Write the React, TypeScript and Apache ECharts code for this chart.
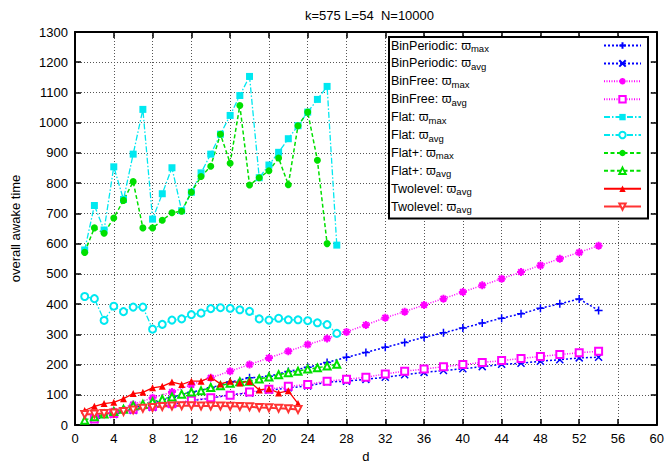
import React, { useEffect, useRef } from "react";
import * as echarts from "echarts";

// ---- data ----
const dEven = [2, 4, 6, 8, 10, 12, 14, 16, 18, 20, 22, 24, 26, 28, 30, 32, 34, 36, 38, 40, 42, 44, 46, 48, 50, 52, 54];
const d27 = [1, 2, 3, 4, 5, 6, 7, 8, 9, 10, 11, 12, 13, 14, 15, 16, 17, 18, 19, 20, 21, 22, 23, 24, 25, 26, 27];
const d26 = [1, 2, 3, 4, 5, 6, 7, 8, 9, 10, 11, 12, 13, 14, 15, 16, 17, 18, 19, 20, 21, 22, 23, 24, 25, 26];
const d23 = [1, 2, 3, 4, 5, 6, 7, 8, 9, 10, 11, 12, 13, 14, 15, 16, 17, 18, 19, 20, 21, 22, 23];

const binPeriodicMax = [25, 42, 58, 72, 92, 108, 123, 142, 156, 161, 177, 191, 207, 224, 240, 257, 273, 290, 305, 321, 337, 353, 368, 386, 401, 417, 379];
const binPeriodicAvg = [18, 35, 48, 58, 68, 80, 89, 100, 106, 115, 123, 129, 142, 145, 151, 158, 166, 174, 180, 186, 193, 201, 204, 211, 216, 222, 224];
const binFreeMax = [26, 46, 68, 90, 109, 133, 156, 178, 200, 222, 244, 266, 286, 308, 331, 355, 375, 397, 418, 440, 462, 484, 506, 528, 550, 571, 593];
const binFreeAvg = [20, 38, 52, 62, 71, 82, 90, 98, 109, 118, 128, 134, 145, 151, 158, 169, 178, 185, 193, 200, 207, 213, 220, 227, 233, 239, 244];
const flatMax = [579, 726, 645, 854, 746, 896, 1044, 681, 765, 851, 709, 770, 834, 896, 962, 1024, 1090, 1153, 818, 860, 902, 947, 990, 1035, 1077, 1120, 595];
const flatAvg = [425, 418, 346, 393, 375, 390, 390, 317, 333, 347, 351, 365, 370, 385, 388, 386, 381, 376, 351, 347, 353, 348, 348, 345, 338, 332, 303];
const flatPlusMax = [571, 652, 634, 685, 743, 805, 652, 652, 677, 702, 707, 770, 822, 856, 962, 866, 1057, 794, 818, 841, 883, 795, 990, 1035, 876, 600];
const flatPlusAvg = [16, 27, 36, 45, 52, 64, 69, 77, 85, 93, 102, 109, 113, 124, 130, 138, 143, 145, 152, 159, 166, 173, 178, 185, 189, 195, 201];
const twolevelA = [48, 62, 71, 75, 87, 104, 108, 123, 128, 142, 134, 145, 145, 158, 136, 145, 139, 144, 116, 120, 106, 113, 71];
const twolevelB = [35, 36, 38, 40, 45, 50, 55, 58, 61, 63, 64, 64, 63, 63, 63, 62, 61, 60, 58, 57, 55, 54, 51];

const xTickValues = { min: 0, max: 60, interval: 4 };
const yTickValues = { min: 0, max: 1300, interval: 100 };

const titleText = "k=575 L=54  N=10000";
const xName = "d";
const yName = "overall awake time";

// legend labels: [main text, subscript]
const seriesNames = ["bpMax", "bpAvg", "bfMax", "bfAvg", "flMax", "flAvg", "fpMax", "fpAvg", "tlA", "tlB"];
const legendLabels: Record<string, [string, string]> = {
  bpMax: ["BinPeriodic: \u03D6", "max"],
  bpAvg: ["BinPeriodic: \u03D6", "avg"],
  bfMax: ["BinFree: \u03D6", "max"],
  bfAvg: ["BinFree: \u03D6", "avg"],
  flMax: ["Flat: \u03D6", "max"],
  flAvg: ["Flat: \u03D6", "avg"],
  fpMax: ["Flat+: \u03D6", "max"],
  fpAvg: ["Flat+: \u03D6", "avg"],
  tlA: ["Twolevel: \u03D6", "avg"],
  tlB: ["Twolevel: \u03D6", "avg"],
};

const FONT = "'Liberation Sans', Arial, Helvetica, sans-serif";
const BLUE = "#0000ff";
const MAGENTA = "#ff00ff";
const CYAN = "#00e8f0";
const GREEN = "#00e000";
const RED = "#ff0000";

const PLUS = "path://M5,0L5,10M0,5L10,5";
const CROSS = "path://M0,0L10,10M10,0L0,10";
const STAR = "path://M5,0L5,10M0,5L10,5M1.5,1.5L8.5,8.5M8.5,1.5L1.5,8.5";

function mk(
  name: string,
  xs: number[],
  ys: number[],
  color: string,
  dash: any,
  width: number,
  symbol: string,
  size: number,
  border: number,
  extra: any = {}
) {
  return {
    name,
    type: "line",
    data: xs.map((x, i) => [x, ys[i]]),
    symbol,
    symbolSize: size,
    lineStyle: { color, width, type: dash },
    itemStyle: { color, borderColor: color, borderWidth: border },
    emphasis: { disabled: true },
    ...extra,
  };
}

export default function App() {
  const ref = useRef<HTMLDivElement>(null);
  useEffect(() => {
    document.body.style.margin = "0";
    const chart = echarts.init(ref.current!, null, { renderer: "svg" });
    const axisLine = { show: true, onZero: false, lineStyle: { color: "#000", width: 2 } };
    const axisTick = { show: true, inside: true, length: 6, lineStyle: { color: "#000", width: 1.5 } };
    const splitLine = { show: true, lineStyle: { color: "#555", width: 1, type: [1, 2] } };
    const labelStyle = { fontSize: 13, color: "#000", fontFamily: FONT };
    const plain = (v: number) => String(v);
    const option: any = {
      animation: false,
      backgroundColor: "#fff",
      title: {
        text: titleText,
        left: 300,
        top: 4,
        textStyle: { fontSize: 13, fontWeight: "normal", color: "#000", fontFamily: FONT },
      },
      grid: { left: 75, right: 10, top: 32, bottom: 40 },
      xAxis: [
        {
          type: "value",
          ...xTickValues,
          position: "bottom",
          name: xName,
          nameLocation: "middle",
          nameGap: 25,
          nameTextStyle: labelStyle,
          axisLine,
          axisTick,
          axisLabel: { ...labelStyle, margin: 7, formatter: plain },
          splitLine,
        },
        {
          type: "value",
          ...xTickValues,
          position: "top",
          axisLine,
          axisTick,
          axisLabel: { show: false },
          splitLine: { show: false },
        },
      ],
      yAxis: [
        {
          type: "value",
          ...yTickValues,
          position: "left",
          name: yName,
          nameLocation: "middle",
          nameGap: 53,
          nameTextStyle: labelStyle,
          axisLine,
          axisTick,
          axisLabel: { ...labelStyle, margin: 7, formatter: plain },
          splitLine,
        },
        {
          type: "value",
          ...yTickValues,
          position: "right",
          axisLine,
          axisTick,
          axisLabel: { show: false },
          splitLine: { show: false },
        },
      ],
      legend: {
        orient: "vertical",
        left: 389,
        top: 37,
        align: "right",
        itemWidth: 37,
        itemHeight: 8,
        itemGap: 3.4,
        padding: [2, 6, 4, 2],
        backgroundColor: "#fff",
        borderColor: "#000",
        borderWidth: 2,
        borderRadius: 0,
        selectedMode: false,
        data: seriesNames,
        formatter: (n: string) => {
          const l = legendLabels[n];
          return `{m|${l[0]}}{s|${l[1]}}`;
        },
        textStyle: {
          width: 208,
          fontFamily: FONT,
          color: "#000",
          rich: {
            m: { fontSize: 12.5, lineHeight: 16, fontFamily: FONT, color: "#000", align: "left" },
            s: { fontSize: 9.5, lineHeight: 8, verticalAlign: "bottom", fontFamily: FONT, color: "#000", align: "left" },
          },
        },
      },
      series: [
        mk("bpMax", dEven, binPeriodicMax, BLUE, [2, 2], 1.5, PLUS, 8, 1.5),
        mk("bpAvg", dEven, binPeriodicAvg, BLUE, [2, 2], 1.5, CROSS, 7, 1.5),
        mk("bfMax", dEven, binFreeMax, MAGENTA, [1, 1.5], 1.5, STAR, 8, 2),
        mk("bfAvg", dEven, binFreeAvg, MAGENTA, [1, 1.5], 1.5, "emptyRect", 7, 0),
        mk("flMax", d27, flatMax, CYAN, [6, 2, 1.5, 2], 1.3, "rect", 7, 0),
        mk("flAvg", d27, flatAvg, CYAN, [6, 2, 1.5, 2], 1.3, "emptyCircle", 7, 0),
        mk("fpMax", d26, flatPlusMax, GREEN, [4, 2.5], 1.5, "circle", 7, 0),
        mk("fpAvg", d27, flatPlusAvg, GREEN, [4, 2.5], 1.5, "emptyTriangle", 7, 0),
        mk("tlA", d23, twolevelA, RED, "solid", 1.3, "triangle", 7, 0),
        mk("tlB", d23, twolevelB, "#ff3333", "solid", 2, "emptyTriangle", 7, 0, { symbolRotate: 180 }),
      ],
    };
    chart.setOption(option);
    return () => chart.dispose();
  }, []);
  return <div ref={ref} style={{ width: 667, height: 468 }} />;
}
